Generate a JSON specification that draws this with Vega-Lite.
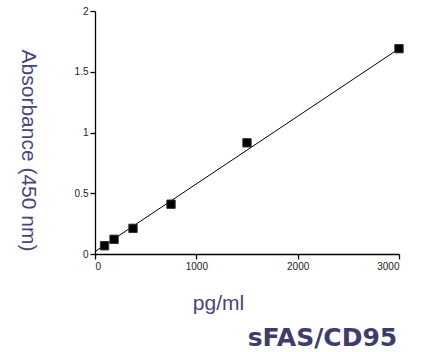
{
  "$schema": "https://vega.github.io/schema/vega-lite/v6.json",
  "width": 304,
  "height": 243,
  "autosize": {"type": "none"},
  "padding": {"left": 95, "top": 11, "right": 24, "bottom": 98},
  "background": "white",
  "config": {
    "view": {"stroke": null},
    "font": "Liberation Sans",
    "axis": {
      "grid": false,
      "domainColor": "black",
      "domainWidth": 1.3,
      "tickColor": "black",
      "tickWidth": 1.3,
      "tickSize": 5,
      "labelFont": "Liberation Sans",
      "labelFontSize": 10,
      "labelColor": "#222222",
      "titleFont": "Liberation Sans",
      "titleFontSize": 21,
      "titleFontWeight": "normal",
      "titleColor": "#47467c"
    }
  },
  "title": {
    "text": "sFAS/CD95",
    "orient": "bottom",
    "anchor": "end",
    "font": "DejaVu Sans",
    "fontSize": 25,
    "fontWeight": "bold",
    "color": "#3d3c6e",
    "offset": 13,
    "dx": -8
  },
  "layer": [
    {
      "data": {"values": [
        {"conc": 0, "abs": 0.02},
        {"conc": 3000, "abs": 1.69}
      ]},
      "mark": {"type": "line", "color": "black", "strokeWidth": 1},
      "encoding": {
        "x": {"field": "conc", "type": "quantitative"},
        "y": {"field": "abs", "type": "quantitative"}
      }
    },
    {
      "data": {"values": [
        {"conc": 94, "abs": 0.068},
        {"conc": 188, "abs": 0.121},
        {"conc": 375, "abs": 0.211},
        {"conc": 750, "abs": 0.41},
        {"conc": 1500, "abs": 0.915},
        {"conc": 3000, "abs": 1.69}
      ]},
      "mark": {"type": "square", "color": "black", "opacity": 1, "size": 70, "stroke": "#333333", "strokeWidth": 1},
      "encoding": {
        "x": {
          "field": "conc", "type": "quantitative",
          "scale": {"domain": [0, 3000], "nice": false, "zero": true},
          "axis": {"values": [0, 1000, 2000, 3000], "format": "d", "title": "pg/ml",
                   "titleX": 123, "titleY": 49, "titleBaseline": "middle", "titleAlign": "center"}
        },
        "y": {
          "field": "abs", "type": "quantitative",
          "scale": {"domain": [0, 2], "nice": false},
          "axis": {"values": [0, 0.5, 1, 1.5, 2], "format": ".1~f", "title": "Absorbance (450 nm)",
                   "titleAngle": 90, "titleX": -68, "titleY": 139, "titleAlign": "center", "titleBaseline": "middle"}
        }
      }
    }
  ]
}
